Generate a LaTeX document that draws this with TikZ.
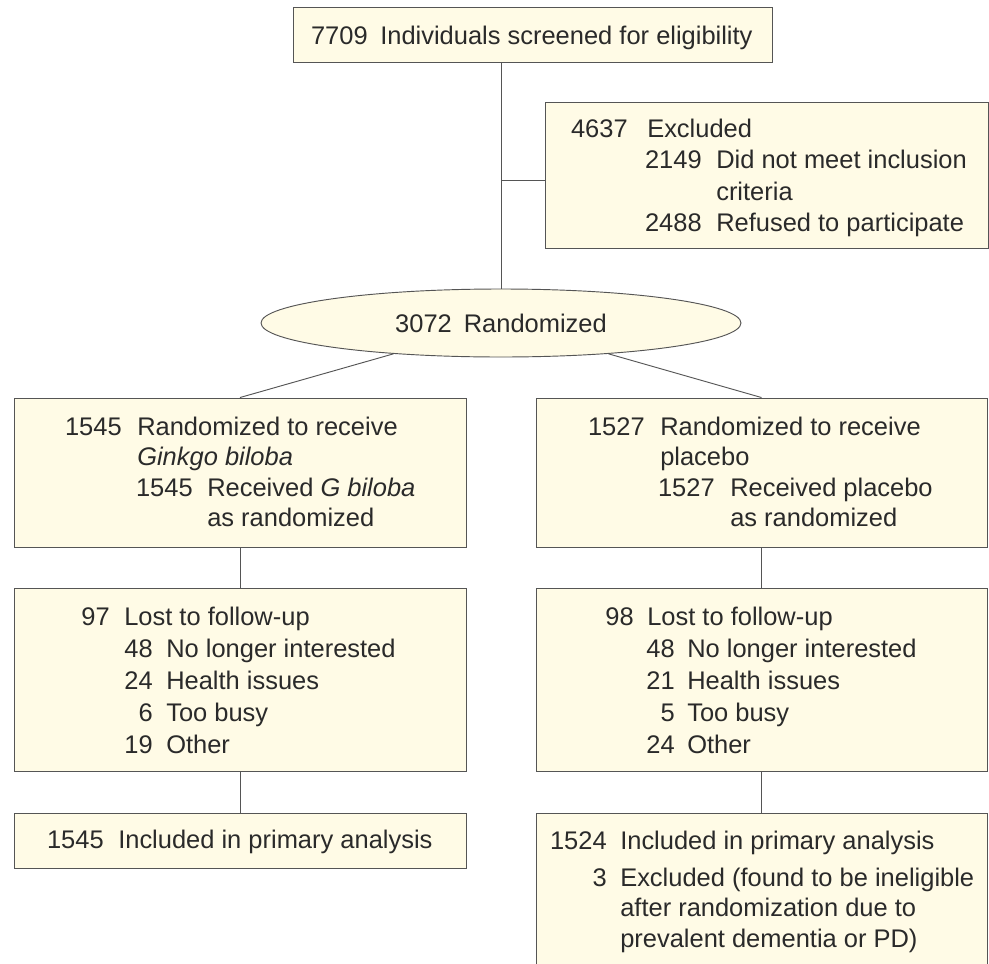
\documentclass[tikz,border=0pt]{standalone}
\usepackage{fontspec}
\setmainfont{Liberation Sans}
\usetikzlibrary{shapes.geometric}
\definecolor{cream}{HTML}{FFFBE6}
\definecolor{edge}{HTML}{555555}
\definecolor{ink}{HTML}{2A2A2A}
\newcommand{\boxnode}[5]{\node[box, minimum width={(#4-#2)*0.75pt}, minimum height={(#5-#3)*0.75pt}] (#1) at ({(#2+#4)/2},{(#3+#5)/2}) {};}
\newcommand{\tnum}[4]{\node[txt,anchor=base east] (#1) at (#2,#3) {#4};}
\newcommand{\tlbl}[4]{\node[txt,anchor=base west] (#1) at (#2,#3) {#4};}
\begin{document}
\begin{tikzpicture}[x=0.75pt,y=-0.75pt,
  box/.style={draw=edge, fill=cream, line width=0.7pt, inner sep=0pt, rectangle},
  txt/.style={inner sep=0pt, text=ink, font=\fontsize{19.1pt}{22pt}\selectfont},
  conn/.style={draw=edge, line width=0.7pt}]
\useasboundingbox (0,0) rectangle (989,964);
\clip (0,0) rectangle (989,964);
\fill[white] (0,0) rectangle (989,964);

% boxes
\boxnode{top}{293}{7}{772}{62}
\boxnode{excl}{545}{102}{988}{248}
\boxnode{Lone}{14}{398}{466}{547}
\boxnode{Rone}{536}{398}{987}{547}
\boxnode{Ltwo}{14}{588}{466}{771}
\boxnode{Rtwo}{536}{588}{987}{771}
\boxnode{Lthree}{14}{813}{466}{868}
\boxnode{Rthree}{536}{813}{987}{1010}
\node[ellipse, draw=edge, fill=cream, line width=0.7pt, inner sep=0pt,
  minimum width={480*0.75pt}, minimum height={68*0.75pt}] (ell) at (501,323) {};

% connectors
\coordinate (j) at (501,180);
\draw[conn] (top.south -| ell.north) -- (ell.north);
\draw[conn] (j) -- (j -| excl.west);
\draw[conn] (ell.196) -- (Lone.north);
\draw[conn] (ell.-16) -- (Rone.north);
\draw[conn] (Lone.south) -- (Ltwo.north);
\draw[conn] (Ltwo.south) -- (Lthree.north);
\draw[conn] (Rone.south) -- (Rtwo.north);
\draw[conn] (Rtwo.south) -- (Rthree.north);

% texts
\tnum{a1}{368}{44}{7709}
\tlbl{a2}{380}{44}{Individuals screened for eligibility}

\tnum{b1}{628}{137}{4637}
\tlbl{b2}{647}{137}{Excluded}
\tnum{b3}{702}{168.5}{2149}
\tlbl{b4}{716}{168.5}{Did not meet inclusion}
\tlbl{b5}{716}{200}{criteria}
\tnum{b6}{702}{231}{2488}
\tlbl{b7}{716}{231}{Refused to participate}

\node[txt] (c1) at (501,323) {3072\hspace{9pt}Randomized};

\tnum{d1}{122}{435}{1545}
\tlbl{d2}{137}{435}{Randomized to receive}
\tlbl{d3}{137}{465.5}{\itshape Ginkgo biloba}
\tnum{d4}{193}{496}{1545}
\tlbl{d5}{207}{496}{Received \textit{G biloba}}
\tlbl{d6}{207}{526.5}{as randomized}

\tnum{e1}{645}{435}{1527}
\tlbl{e2}{660}{435}{Randomized to receive}
\tlbl{e3}{660}{465.5}{placebo}
\tnum{e4}{715}{496}{1527}
\tlbl{e5}{730}{496}{Received placebo}
\tlbl{e6}{730}{526.5}{as randomized}

\tnum{f1}{110}{625}{97}
\tlbl{f2}{124}{625}{Lost to follow-up}
\tnum{f3}{153}{657}{48}
\tlbl{f4}{166}{657}{No longer interested}
\tnum{f5}{153}{689}{24}
\tlbl{f6}{166}{689}{Health issues}
\tnum{f7}{153}{721}{6}
\tlbl{f8}{166}{721}{Too busy}
\tnum{f9}{153}{753}{19}
\tlbl{f10}{166}{753}{Other}

\tnum{g1}{634}{625}{98}
\tlbl{g2}{647}{625}{Lost to follow-up}
\tnum{g3}{675}{657}{48}
\tlbl{g4}{687}{657}{No longer interested}
\tnum{g5}{675}{689}{21}
\tlbl{g6}{687}{689}{Health issues}
\tnum{g7}{675}{721}{5}
\tlbl{g8}{687}{721}{Too busy}
\tnum{g9}{675}{753}{24}
\tlbl{g10}{687}{753}{Other}

\tnum{h1}{104}{848}{1545}
\tlbl{h2}{118}{848}{Included in primary analysis}

\tnum{k1}{607}{849}{1524}
\tlbl{k2}{620}{849}{Included in primary analysis}
\tnum{k3}{607}{886}{3}
\tlbl{k4}{620}{886}{Excluded (found to be ineligible}
\tlbl{k5}{620}{916}{after randomization due to}
\tlbl{k6}{620}{947}{prevalent dementia or PD)}
\end{tikzpicture}
\end{document}
